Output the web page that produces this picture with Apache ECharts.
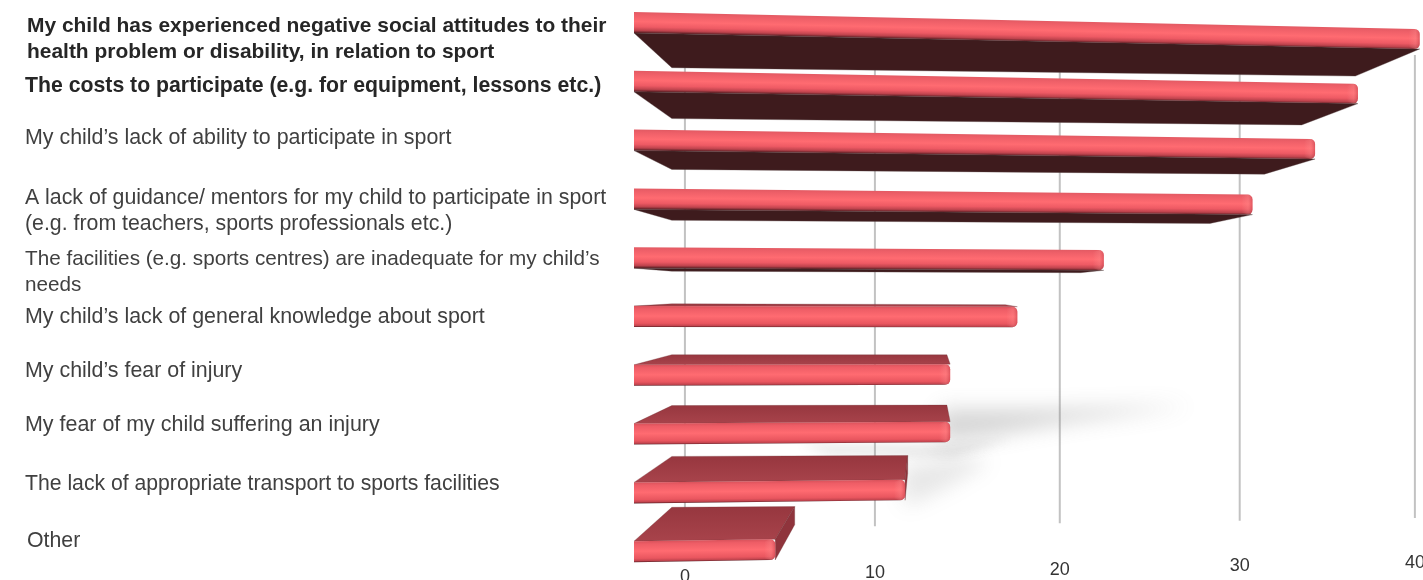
<!DOCTYPE html>
<html>
<head>
<meta charset="utf-8">
<style>html,body{margin:0;padding:0;background:#fff;overflow:hidden}#chart{width:1423px;height:580px}</style>
<script src="https://cdn.jsdelivr.net/npm/echarts@6/dist/echarts.min.js"></script>
</head>
<body>
<div id="chart"></div>
<script>
// Survey answers, most common barrier first (percent of parents).
const categories = [
  'My child has experienced negative social attitudes to their\nhealth problem or disability, in relation to sport',
  'The costs to participate (e.g. for equipment, lessons etc.)',
  'My child’s lack of ability to participate in sport',
  'A lack of guidance/ mentors for my child to participate in sport\n(e.g. from teachers, sports professionals etc.)',
  'The facilities (e.g. sports centres) are inadequate for my child’s\nneeds',
  'My child’s lack of general knowledge about sport',
  'My child’s fear of injury',
  'My fear of my child suffering an injury',
  'The lack of appropriate transport to sports facilities',
  'Other'
];
const values = [35.3, 32.4, 30.4, 27.5, 20.7, 16.8, 13.8, 13.8, 11.8, 6.1];
const tickValues = [0, 10, 20, 30, 40];
const tickLabels = ['0', '10', '20', '30', '40'];
const boldRows = [0, 1];

// Text block placement for the left-hand captions.
const captionCentreY = [39.5, 86, 138, 211, 272, 317, 371, 425, 484, 541];
const captionX = [27, 25, 25, 25, 25, 25, 25, 25, 25, 27];
const captionSize = [20.95, 21.25, 21.4, 21.3, 20.7, 21.4, 21.4, 21.45, 21.2, 21.3];

// Perspective model of the scene.
const PLOT_LEFT = 634;
const PLOT_WIDTH = 789;         // grid width, holds the axis range 0..40
const NEAR_UNIT = 23.35;        // pixels per axis unit at the near end of the bars
const FORESHORTEN = 0.00139;    // x compression per axis unit
const VANISH_X = 925, VANISH_Y = 290;
const DEPTH_X = 0.13;
const WALL_DEPTH = 0.175;
const BAR_H = 21;

function warpX(px) {
  const v = (px - PLOT_LEFT) / PLOT_WIDTH * 40;
  return PLOT_LEFT + NEAR_UNIT * v / (1 + FORESHORTEN * v);
}
// The front plane is turned slightly, so rows converge toward the right.
function frontY(x, y) {
  return y + (334 - y) * 0.053 * (x - PLOT_LEFT) / 786;
}
function toBack(p) {
  const depthY = 0.135 - 0.0225 * (p[0] - PLOT_LEFT) / 786;
  return [p[0] + DEPTH_X * (VANISH_X - p[0]), p[1] + depthY * (VANISH_Y - p[1])];
}

function renderBar(params, api) {
  const c = api.coord([api.value(0), api.value(1)]);
  const xR = warpX(c[0]);
  const y0 = c[1] - BAR_H / 2;
  const y1 = c[1] + BAR_H / 2;
  const tl = [PLOT_LEFT, y0], bl = [PLOT_LEFT, y1];
  const tr = [xR, frontY(xR, y0)], br = [xR, frontY(xR, y1)];
  const tlB = toBack(tl), blB = toBack(bl), trB = toBack(tr), brB = toBack(br);
  const kids = [];
  const showsUnderside = blB[1] > bl[1];

  // Underside (visible above the horizon) or top face (visible below it).
  if (showsUnderside) {
    kids.push({ type: 'polygon', shape: { points: [bl, blB, brB, br] },
      style: { fill: '#3e1b1d', stroke: 'rgba(90,70,70,0.6)', lineWidth: 0.6 } });
  }
  if (tlB[1] < tl[1]) {
    const g = new echarts.graphic.LinearGradient(0, tlB[1], 0, tl[1],
      [{ offset: 0, color: '#97373f' }, { offset: 1, color: '#a8434b' }], true);
    kids.push({ type: 'polygon', shape: { points: [tl, tlB, trB, tr] },
      style: { fill: g, stroke: 'rgba(110,50,55,0.5)', lineWidth: 0.6 } });
  }
  // End face, only when the bar stops left of the vanishing point.
  if (trB[0] > tr[0] + 1) {
    kids.push({ type: 'polygon', shape: { points: [tr, trB, brB, br] },
      style: { fill: '#8f343c', stroke: 'rgba(110,50,55,0.5)', lineWidth: 0.6 } });
  }

  // Rounded front face.
  const r = 5;
  const pts = [tl];
  for (let i = 0; i <= 4; i++) {
    const a = -Math.PI / 2 + i * Math.PI / 8;
    pts.push([xR - r + r * Math.cos(a), tr[1] + r + r * Math.sin(a)]);
  }
  for (let i = 0; i <= 4; i++) {
    const a = i * Math.PI / 8;
    pts.push([xR - r + r * Math.cos(a), br[1] - r + r * Math.sin(a)]);
  }
  pts.push(bl);
  const m = (tr[1] - tl[1]) / (xR - PLOT_LEFT);
  const stops = showsUnderside
    ? [
        { offset: 0, color: '#e25a63' },
        { offset: 0.14, color: '#ee5f68' },
        { offset: 0.45, color: '#ff6b71' },
        { offset: 0.7, color: '#ee5a64' },
        { offset: 0.87, color: '#bf434d' },
        { offset: 1, color: '#4a1c20' }
      ]
    : [
        { offset: 0, color: '#d9525b' },
        { offset: 0.14, color: '#ee5d66' },
        { offset: 0.48, color: '#ff6b71' },
        { offset: 0.82, color: '#e9565f' },
        { offset: 0.94, color: '#c2444e' },
        { offset: 1, color: '#5a1f25' }
      ];
  const face = new echarts.graphic.LinearGradient(
    PLOT_LEFT, y0, PLOT_LEFT - m * BAR_H, y0 + BAR_H, stops, true);
  kids.push({ type: 'polygon', shape: { points: pts }, style: { fill: face } });

  // Soft sheen on the rounded end of the bar.
  const capW = 11;
  const capPts = pts.slice(1, 11).concat([[xR - capW, frontY(xR - capW, y1) - 2], [xR - capW, frontY(xR - capW, y0) + 2]]);
  const cap = new echarts.graphic.LinearGradient(xR - capW, 0, xR, 0, [
    { offset: 0, color: 'rgba(255,160,160,0)' },
    { offset: 0.6, color: 'rgba(255,150,150,0.28)' },
    { offset: 1, color: 'rgba(190,60,70,0.45)' }
  ], true);
  kids.push({ type: 'polygon', shape: { points: capPts }, style: { fill: cap } });

  return { type: 'group', children: kids };
}

// Grid lines stand on the back wall of the scene, with their labels below.
function renderTick(params, api) {
  const x0 = warpX(api.coord([api.value(0), 0])[0]);
  const x = x0 + WALL_DEPTH * (VANISH_X - x0);
  const run = (x - 685) / 730;
  return {
    type: 'group',
    children: [
      { type: 'line', shape: { x1: x, y1: 55, x2: x, y2: 529 - 11 * run },
        style: { stroke: '#c2c2c2', lineWidth: 2 } },
      { type: 'text', style: {
        text: tickLabels[params.dataIndex], x: x, y: 577 - 14 * run,
        align: 'center', verticalAlign: 'middle',
        font: '18px "Liberation Sans", Arial, sans-serif', fill: '#333' } }
    ]
  };
}

// Ground shadow cast behind the two long low bars; the shapes sit off-canvas so
// only their blurred shadow lands on the page.
function renderShadow(params, api) {
  const anchor = params.dataIndex === 0 ? 7 : 8;
  const c = api.coord([values[anchor], anchor]);
  const ax = warpX(c[0]), ay = c[1];
  const OFF = 3000;
  const blob = (pts, alpha, blur) => ({
    type: 'polygon',
    x: -OFF,
    shape: { points: pts.map(p => [ax + p[0], ay + p[1]]) },
    style: { fill: '#000', shadowColor: 'rgba(120,120,120,' + alpha + ')', shadowBlur: blur, shadowOffsetX: OFF }
  });
  if (anchor === 7) {
    return { type: 'group', children: [
      blob([[-10, -25], [100, -25], [240, -28], [120, -12], [40, 2], [-10, 8]], 0.3, 20),
      blob([[-150, 10], [0, 10], [60, 6], [0, 24], [-120, 22]], 0.14, 10)
    ] };
  }
  return { type: 'group', children: [
    blob([[-4, -26], [60, -36], [85, -32], [40, -5], [0, 14]], 0.18, 20)
  ] };
}

const chart = echarts.init(document.getElementById('chart'), null, { renderer: 'canvas' });

const captionElements = categories.map((text, i) => ({
  type: 'text',
  x: captionX[i],
  y: captionCentreY[i],
  style: {
    text,
    fontFamily: '"Liberation Sans", Arial, sans-serif',
    fontSize: captionSize[i],
    fontWeight: boldRows.includes(i) ? 'bold' : 'normal',
    lineHeight: 26,
    fill: boldRows.includes(i) ? '#262626' : '#404040',
    align: 'left',
    verticalAlign: 'middle'
  }
}));

chart.setOption({
  animation: false,
  backgroundColor: '#fff',
  grid: { left: PLOT_LEFT, top: 22.5, width: PLOT_WIDTH, height: 529.2 },
  xAxis: { type: 'value', min: 0, max: 40, interval: 10, show: false },
  yAxis: { type: 'category', data: categories, inverse: true, boundaryGap: false, show: false },
  graphic: captionElements,
  series: [
    { type: 'custom', name: 'ticks', coordinateSystem: 'cartesian2d', silent: true, z: 1,
      renderItem: renderTick, encode: { x: 0 },
      data: tickValues.map(v => [v, 0]) },
    { type: 'custom', name: 'shadow', coordinateSystem: 'cartesian2d', silent: true, z: 2,
      renderItem: renderShadow,
      data: [[values[7], 7], [values[8], 8]] },
    { type: 'custom', name: 'answers', coordinateSystem: 'cartesian2d', z: 3,
      renderItem: renderBar, encode: { x: 0, y: 1 },
      data: values.map((v, i) => [v, i]) }
  ]
});
</script>
</body>
</html>
